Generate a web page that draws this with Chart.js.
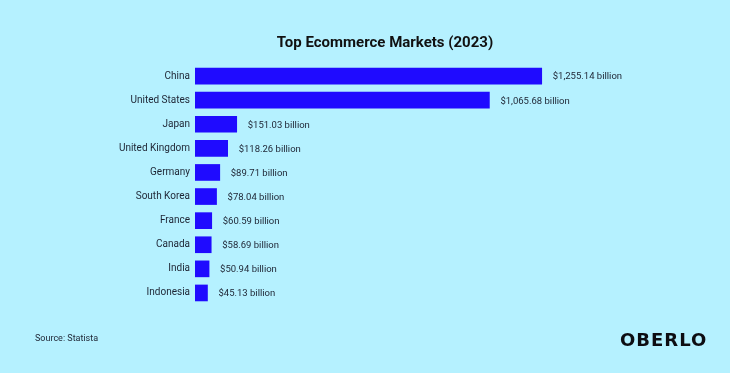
<!DOCTYPE html>
<html>
<head>
<meta charset="utf-8">
<script src="https://cdn.jsdelivr.net/npm/chart.js@4"></script>
<style>
  html, body { margin: 0; padding: 0; background: #b5f1ff; }
  #wrap { width: 730px; height: 373px; }
</style>
</head>
<body>
<div id="wrap"><canvas id="myChart" width="730" height="373"></canvas></div>
<script>
// data
const countries = ['China', 'United States', 'Japan', 'United Kingdom', 'Germany',
  'South Korea', 'France', 'Canada', 'India', 'Indonesia'];
const sales = [1255.14, 1065.68, 151.03, 118.26, 89.71, 78.04, 60.59, 58.69, 50.94, 45.13];

const textColor = '#1d2433';

// value labels, title, source and logo
const extras = {
  id: 'extras',
  afterDatasetsDraw(chart) {
    const ctx = chart.ctx;
    const meta = chart.getDatasetMeta(0);
    ctx.save();
    ctx.fillStyle = textColor;
    ctx.font = '9.5px Roboto';
    ctx.textBaseline = 'middle';
    meta.data.forEach((bar, i) => {
      const v = sales[i].toLocaleString('en-US', { minimumFractionDigits: 2 });
      ctx.fillText('$' + v + ' billion', bar.x + 11, bar.y + 1);
    });

    ctx.font = 'bold 15px Roboto';
    ctx.textAlign = 'center';
    ctx.fillStyle = '#111';
    ctx.fillText('Top Ecommerce Markets (2023)', 385, 43);

    ctx.textAlign = 'left';
    ctx.font = '9px Roboto';
    ctx.fillStyle = textColor;
    ctx.fillText('Source: Statista', 35, 339);

    ctx.font = 'bold 18px "DejaVu Sans"';
    ctx.fillStyle = '#0d0d12';
    ctx.letterSpacing = '1px';
    ctx.fillText('OBERLO', 620, 341);
    ctx.restore();
  }
};

const ctx = document.getElementById('myChart');

new Chart(ctx, {
  type: 'bar',
  data: {
    labels: countries,
    datasets: [{
      data: sales,
      backgroundColor: '#1f0bff',
      barThickness: 16
    }]
  },
  options: {
    indexAxis: 'y',
    responsive: false,
    animation: false,
    layout: { padding: { top: 64, bottom: 68, left: 0, right: 93 } },
    plugins: {
      legend: { display: false },
      tooltip: { enabled: false }
    },
    scales: {
      x: {
        min: 0,
        max: 1600,
        display: false
      },
      y: {
        grid: { display: false, drawTicks: false },
        border: { display: false },
        afterFit(scale) { scale.width = 195; },
        ticks: {
          color: textColor,
          font: { family: 'Roboto', size: 10 },
          padding: 5
        }
      }
    }
  },
  plugins: [extras]
});
</script>
</body>
</html>
